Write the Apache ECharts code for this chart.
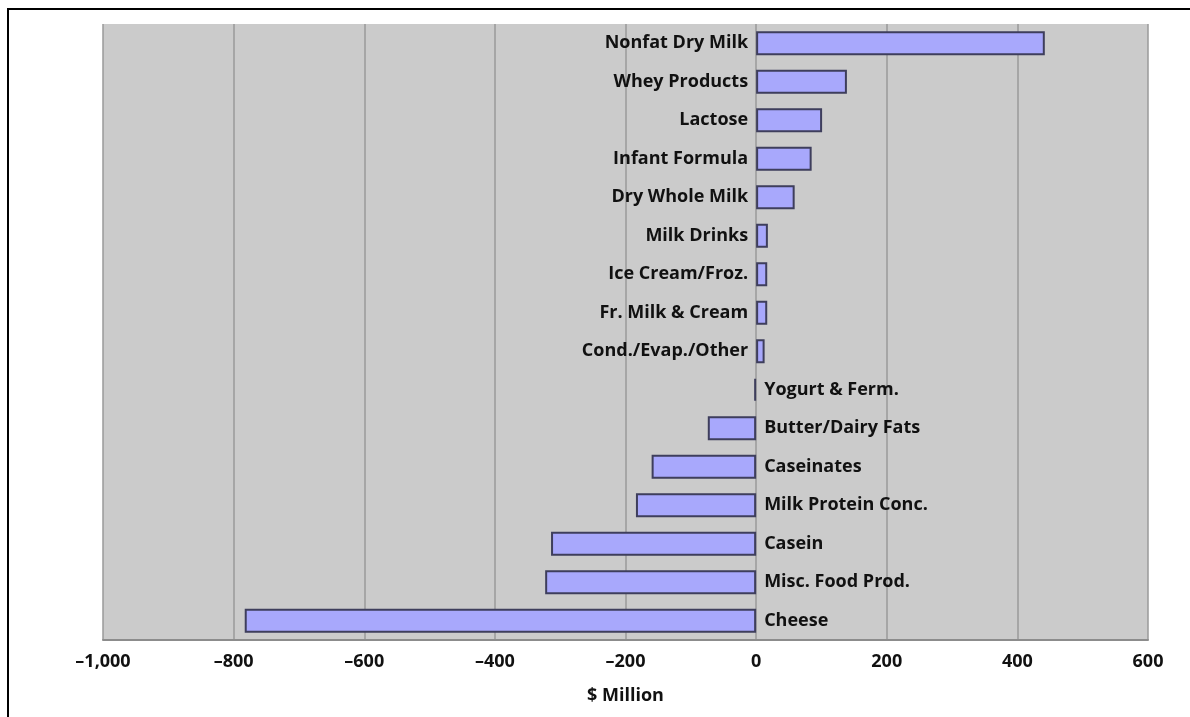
<!DOCTYPE html>
<html>
<head>
<meta charset="utf-8">
<script src="https://cdn.jsdelivr.net/npm/echarts@6/dist/echarts.min.js"></script>
<style>
  html, body { margin: 0; padding: 0; background: #fff; }
  #chart { width: 1190px; height: 717px; }
</style>
</head>
<body>
<div id="chart"></div>
<script>
// dairy trade balance by product, $ million
const products = [
  'Nonfat Dry Milk', 'Whey Products', 'Lactose', 'Infant Formula', 'Dry Whole Milk',
  'Milk Drinks', 'Ice Cream/Froz.', 'Fr. Milk & Cream', 'Cond./Evap./Other',
  'Yogurt & Ferm.', 'Butter/Dairy Fats', 'Caseinates', 'Milk Protein Conc.',
  'Casein', 'Misc. Food Prod.', 'Cheese'
];
const balance = [442, 139, 101, 85, 59, 18, 17, 17, 13, -3, -74, -160, -184, -314, -323, -783];
const axisMin = -1000;
const axisMax = 600;
const axisStep = 200;

const FONT = '"Open Sans", "Noto Sans", sans-serif';

function fmt(v) {
  const s = Math.abs(v).toLocaleString('en-US');
  return v < 0 ? '\u2013' + s : s;
}

const chart = echarts.init(document.getElementById('chart'));

const option = {
  animation: false,
  backgroundColor: '#fff',
  graphic: [{
    type: 'polyline',
    z: -10,
    shape: { points: [[8, 717], [8, 9], [1190, 9]] },
    style: { stroke: '#000', lineWidth: 2, fill: null }
  }],
  grid: {
    left: 103, right: 42, top: 24, bottom: 77,
    show: true, backgroundColor: '#cbcbcb', borderWidth: 0
  },
  xAxis: {
    type: 'value',
    min: axisMin, max: axisMax, interval: axisStep,
    axisLine: { show: true, onZero: false, lineStyle: { color: '#8c8c8c', width: 2 } },
    axisTick: { show: false },
    splitLine: { show: true, lineStyle: { color: '#9a9a9a', width: 1.5 } },
    axisLabel: {
      formatter: fmt, color: '#111', fontFamily: FONT, fontWeight: 'bold',
      fontSize: 18, margin: 13
    },
    name: '$ Million',
    nameLocation: 'middle',
    nameGap: 47,
    nameTextStyle: { color: '#111', fontFamily: FONT, fontWeight: 'bold', fontSize: 18 }
  },
  yAxis: {
    type: 'category',
    data: products,
    inverse: true,
    axisLine: { show: false },
    axisTick: { show: false },
    axisLabel: { show: false },
    splitLine: { show: false }
  },
  series: [{
    type: 'bar',
    barWidth: 24,
    itemStyle: { color: '#a8a8fc', borderColor: '#3e3e5c', borderWidth: 2 },
    data: balance.map(v => ({
      value: v,
      label: {
        show: true,
        position: v >= 0 ? 'left' : 'right',
        distance: 8,
        formatter: p => p.name,
        color: '#111', fontFamily: FONT, fontWeight: 'bold', fontSize: 18
      }
    }))
  }]
};

chart.setOption(option);
</script>
</body>
</html>
